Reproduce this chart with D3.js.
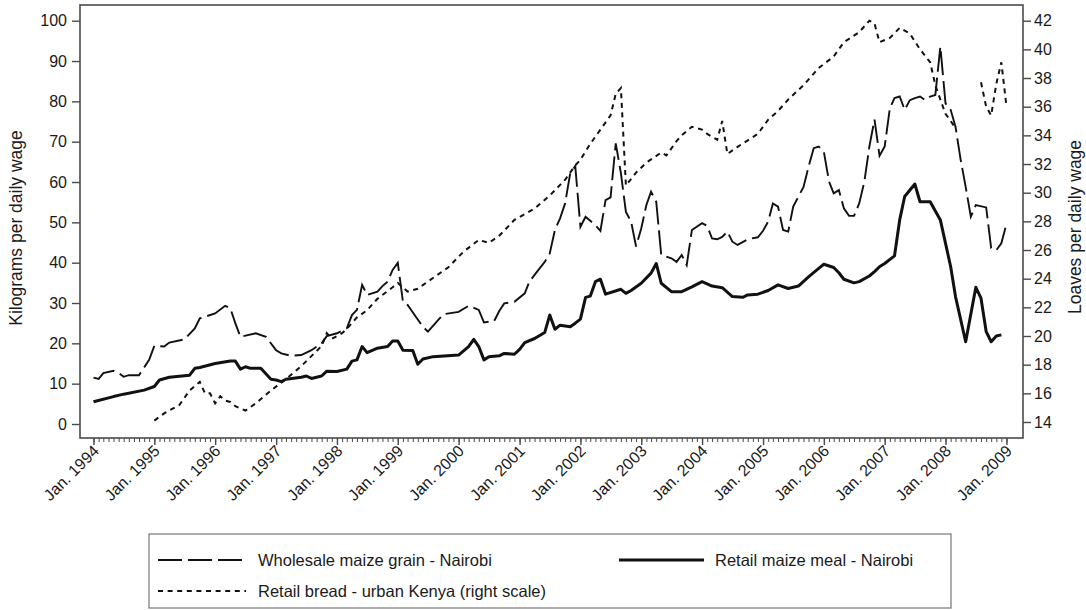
<!DOCTYPE html>
<html><head><meta charset="utf-8">
<script src="https://cdn.jsdelivr.net/npm/d3@7"></script>
<style>
body{margin:0;background:#fff;}
svg text{font-family:"Liberation Sans",Arial,Helvetica,sans-serif;fill:#1a1a1a;}
</style></head><body>
<svg id="chart" width="1086" height="610"></svg>
<script>
// ---------------- DATA ----------------
const leftTicks = [0,10,20,30,40,50,60,70,80,90,100];
const rightTicks = [14,16,18,20,22,24,26,28,30,32,34,36,38,40,42];
const yearTicks = ["1994","1995","1996","1997","1998","1999","2000","2001","2002","2003","2004","2005","2006","2007","2008","2009"];

const seriesNames = ["Wholesale maize grain - Nairobi","Retail maize meal - Nairobi","Retail bread - urban Kenya (right scale)"];

// Retail maize meal - Nairobi (kg per daily wage, left scale)
const mealMonths = ["1994-01","1994-05","1994-07","1994-11","1995-01","1995-02","1995-04","1995-08","1995-09","1995-10",
"1996-01","1996-04","1996-05","1996-06","1996-07","1996-08","1996-10","1996-12","1997-01","1997-02","1997-03","1997-06",
"1997-07","1997-08","1997-10","1997-11","1998-01","1998-03","1998-04","1998-05","1998-06","1998-07","1998-09","1998-11",
"1998-12","1999-01","1999-02","1999-04","1999-05","1999-06","1999-08","2000-01","2000-03","2000-04","2000-05","2000-06",
"2000-07","2000-09","2000-10","2000-12","2001-01","2001-02","2001-04","2001-06","2001-07","2001-08","2001-09","2001-11",
"2001-12","2002-01","2002-02","2002-03","2002-04","2002-05","2002-06","2002-09","2002-10","2002-11","2003-01","2003-03",
"2003-04","2003-05","2003-07","2003-09","2003-11","2004-01","2004-03","2004-05","2004-07","2004-09","2004-10","2004-12",
"2005-02","2005-04","2005-06","2005-08","2005-10","2005-12","2006-01","2006-03","2006-04","2006-05","2006-07","2006-08",
"2006-10","2006-11","2006-12","2007-01","2007-03","2007-04","2007-05","2007-07","2007-08","2007-10","2007-12","2008-02",
"2008-03","2008-05","2008-07","2008-08","2008-09","2008-10","2008-11","2008-12"];
const mealValues = [5.5,6.8,7.4,8.4,9.3,10.9,11.6,12.1,13.8,14.0,
15.0,15.6,15.6,13.6,14.2,13.8,13.8,11.1,10.9,10.5,11.1,11.6,
11.9,11.3,11.9,13.1,13.0,13.6,15.6,15.9,19.2,17.7,18.8,19.2,
20.6,20.6,18.3,18.2,14.8,16.1,16.7,17.1,19.2,21.0,19.2,15.9,
16.7,16.9,17.5,17.3,18.5,20.2,21.2,22.7,27.0,23.5,24.5,24.1,
25.0,26.0,31.4,31.7,35.3,35.9,32.2,33.4,32.4,33.1,34.9,37.4,
39.8,34.9,32.8,32.8,34.0,35.3,34.2,33.8,31.6,31.4,32.0,32.2,
33.1,34.5,33.6,34.2,36.5,38.6,39.6,38.8,37.5,35.9,35.0,35.3,
36.7,37.8,39.0,39.8,41.7,50.6,56.4,59.5,55.1,55.1,50.6,39.0,
31.6,20.4,33.9,31.2,22.9,20.4,21.8,22.1];

// Wholesale maize grain - Nairobi (kg per daily wage, left scale)
const grainMonths = ["1994-01","1994-02","1994-03","1994-05","1994-06","1994-07","1994-08","1994-10","1994-12","1995-01",
"1995-03","1995-04","1995-07","1995-09","1995-10","1996-01","1996-03","1996-04","1996-05","1996-06","1996-09","1996-11",
"1997-01","1997-02","1997-04","1997-06","1997-08","1997-10","1997-11","1998-01","1998-03","1998-04","1998-05","1998-06",
"1998-07","1998-09","1998-10","1998-11","1998-12","1999-01","1999-02","1999-03","1999-06","1999-07","1999-09","1999-10",
"2000-01","2000-03","2000-05","2000-06","2000-08","2000-09","2000-10","2000-12","2001-02","2001-03","2001-05","2001-06",
"2001-07","2001-08","2001-09","2001-10","2001-11","2001-12","2002-01","2002-02","2002-04","2002-05","2002-06","2002-07",
"2002-08","2002-09","2002-10","2002-11","2002-12","2003-01","2003-02","2003-03","2003-04","2003-05","2003-07","2003-08",
"2003-09","2003-10","2003-11","2004-01","2004-02","2004-03","2004-04","2004-05","2004-06","2004-07","2004-08","2004-10",
"2004-12","2005-01","2005-02","2005-03","2005-04","2005-05","2005-06","2005-07","2005-09","2005-10","2005-11","2005-12",
"2006-01","2006-02","2006-03","2006-04","2006-05","2006-06","2006-07","2006-08","2006-09","2006-10","2006-11","2006-12",
"2007-01","2007-02","2007-03","2007-04","2007-05","2007-06","2007-07","2007-08","2007-09","2007-10","2007-11","2007-12",
"2008-01","2008-02","2008-03","2008-04","2008-05","2008-06","2008-07","2008-09","2008-10","2008-11","2008-12","2009-01"];
const grainValues = [11.5,11.2,12.6,13.2,12.7,11.7,12.1,12.1,15.9,19.4,
19.2,20.2,21.0,23.7,26.2,27.4,29.3,28.7,25.0,21.6,22.5,21.6,
18.3,17.5,16.9,17.1,18.3,20.0,21.8,22.5,23.7,27.0,28.3,34.5,
32.0,32.8,34.2,35.3,38.2,40.0,30.3,29.5,24.1,22.9,25.8,27.2,
27.8,29.3,28.3,25.2,25.5,28.0,29.9,30.3,32.4,35.3,38.6,40.2,
42.3,48.1,51.0,54.7,62.2,64.0,48.9,51.4,49.3,47.9,55.5,56.2,
69.6,62.2,52.6,50.2,44.0,48.5,54.3,57.6,55.1,41.9,41.1,40.2,
41.9,39.4,48.1,49.8,49.1,46.0,45.8,46.4,47.7,45.2,44.4,45.8,
46.3,47.9,50.2,54.7,53.9,48.1,47.7,53.9,58.8,63.8,68.4,68.8,
67.5,60.1,57.2,58.0,53.5,51.6,51.6,54.7,60.1,68.8,75.5,66.5,
68.8,78.3,80.8,81.2,77.9,80.3,80.8,81.2,80.3,81.2,81.6,93.6,
79.5,77.9,73.7,65.5,58.8,51.4,54.3,53.7,43.6,43.1,44.8,49.6];

// Retail bread - urban Kenya (loaves per daily wage, right scale); null = missing
const breadMonths = ["1995-01","1995-03","1995-06","1995-08","1995-10","1995-11","1995-12","1996-01","1996-02","1996-03",
"1996-04","1996-05","1996-07","1996-09","1996-12","1997-03","1997-06","1997-10","1997-11","1997-12","1998-02","1998-03",
"1998-05","1998-07","1998-09","1998-12","1999-01","1999-03","1999-05","1999-07","1999-11","2000-02","2000-05","2000-07",
"2000-09","2000-12","2001-04","2001-07","2001-10","2001-12","2002-01","2002-03","2002-05","2002-07","2002-08","2002-09",
"2002-10","2002-12","2003-02","2003-05","2003-06","2003-08","2003-09","2003-11","2004-01","2004-02","2004-04","2004-05",
"2004-06","2004-08","2004-12","2005-02","2005-04","2005-06","2005-09","2005-12","2006-03","2006-05","2006-08","2006-10",
"2006-11","2006-12","2007-02","2007-04","2007-06","2007-08","2007-10","2007-11","2007-12","2008-01","2008-02","2008-03",
"2008-05","2008-08","2008-09","2008-10","2008-11","2008-12","2009-01"];
const breadValues = [14.1,14.6,15.2,16.2,16.8,16.0,16.0,15.3,15.8,15.5,
15.4,15.1,14.8,15.3,16.2,17.0,17.9,19.3,20.2,19.8,20.2,20.5,
21.3,21.8,22.6,23.4,23.7,23.1,23.3,23.8,24.8,25.9,26.7,26.5,
27.0,28.1,28.9,29.8,30.9,31.9,32.3,33.4,34.4,35.4,36.9,37.3,
30.5,31.4,32.1,32.8,32.6,33.6,34.0,34.6,34.4,34.1,33.7,35.0,
32.7,33.2,34.1,35.1,35.7,36.5,37.5,38.7,39.5,40.5,41.2,42.0,
41.8,40.5,40.8,41.5,41.1,40.0,39.1,37.5,36.5,35.5,35.0,34.5,
null,37.7,36.0,35.4,37.6,39.1,36.0];

// ---------------- CHART ----------------
const svg = d3.select("#chart");
const parseM = d3.timeParse("%Y-%m");
const frame = {l:80, r:1023, t:5, b:438};

const x = d3.scaleTime().domain([parseM("1994-01"), parseM("2009-01")]).range([93.5, 1006.5]);
const yL = d3.scaleLinear().domain([0,100]).range([424, 20.7]);
const yR = d3.scaleLinear().domain([14,42]).range([422, 20.7]);

const toPts = (ms, vs) => ms.map((m,i)=>({d:parseM(m), v:vs[i]}));

// frame
svg.append("rect").attr("x",frame.l).attr("y",frame.t)
  .attr("width",frame.r-frame.l).attr("height",frame.b-frame.t)
  .attr("fill","none").attr("stroke","#4a4a4a").attr("stroke-width",1.6);

// x axis minor (monthly)
const xMinor = svg.append("g").attr("transform",`translate(0,${frame.b})`)
  .call(d3.axisBottom(x).tickValues(d3.timeMonth.range(parseM("1994-01"), parseM("2009-02"))).tickSize(4).tickFormat(""));
xMinor.select(".domain").remove();
xMinor.selectAll("line").attr("stroke","#4a4a4a").attr("stroke-width",1);

// x axis major
const xMajor = svg.append("g").attr("transform",`translate(0,${frame.b})`)
  .call(d3.axisBottom(x).tickValues(yearTicks.map(y=>parseM(y+"-01"))).tickSize(7)
    .tickFormat(d=>"Jan. "+d3.timeFormat("%Y")(d)));
xMajor.select(".domain").remove();
xMajor.selectAll("line").attr("stroke","#4a4a4a").attr("stroke-width",1.4);
xMajor.selectAll("text").attr("x",0).attr("y",0).attr("dy",0)
  .attr("transform","translate(6,14) rotate(-45)")
  .style("text-anchor","end").style("font-size","16px").attr("fill","#1a1a1a");

// left axis
const gL = svg.append("g").attr("transform",`translate(${frame.l},0)`)
  .call(d3.axisLeft(yL).tickValues(leftTicks).tickSize(8).tickPadding(5));
gL.select(".domain").remove();
gL.selectAll("line").attr("stroke","#4a4a4a").attr("stroke-width",1.4);
gL.selectAll("text").style("font-size","16px").attr("fill","#1a1a1a");

// right axis
const gR = svg.append("g").attr("transform",`translate(${frame.r},0)`)
  .call(d3.axisRight(yR).tickValues(rightTicks).tickSize(8).tickPadding(3));
gR.select(".domain").remove();
gR.selectAll("line").attr("stroke","#4a4a4a").attr("stroke-width",1.4);
gR.selectAll("text").style("font-size","16px").attr("fill","#1a1a1a");

// axis titles
svg.append("text").attr("transform","translate(21.5,228) rotate(-90)")
  .attr("text-anchor","middle").style("font-size","17.5px").text("Kilograms per daily wage");
svg.append("text").attr("transform","translate(1081,227) rotate(-90)")
  .attr("text-anchor","middle").style("font-size","17.5px").text("Loaves per daily wage");

// lines
const lineL = d3.line().defined(p=>p.v!=null).x(p=>x(p.d)).y(p=>yL(p.v));
const lineR = d3.line().defined(p=>p.v!=null).x(p=>x(p.d)).y(p=>yR(p.v));

const styles = [
  {dash:"24,6", w:1.9},
  {dash:null, w:3},
  {dash:"5,4.6", w:2}
];

svg.append("path").datum(toPts(breadMonths, breadValues)).attr("d",lineR)
  .attr("fill","none").attr("stroke","#111").attr("stroke-width",styles[2].w).attr("stroke-dasharray",styles[2].dash);
svg.append("path").datum(toPts(grainMonths, grainValues)).attr("d",lineL)
  .attr("fill","none").attr("stroke","#111").attr("stroke-width",styles[0].w).attr("stroke-dasharray",styles[0].dash);
svg.append("path").datum(toPts(mealMonths, mealValues)).attr("d",lineL)
  .attr("fill","none").attr("stroke","#111").attr("stroke-width",styles[1].w).attr("stroke-linejoin","round");

// legend
const lg = svg.append("g");
lg.append("rect").attr("x",149).attr("y",534).attr("width",802).attr("height",74)
  .attr("fill","#fff").attr("stroke","#777").attr("stroke-width",1.2);
const items = [
  {i:0, x1:158, x2:246, tx:258, y:560},
  {i:1, x1:619, x2:704, tx:715, y:560},
  {i:2, x1:158, x2:246, tx:258, y:591}
];
items.forEach(it=>{
  const s = styles[it.i];
  lg.append("line").attr("x1",it.x1).attr("x2",it.x2).attr("y1",it.y).attr("y2",it.y)
    .attr("stroke","#111").attr("stroke-width",s.w).attr("stroke-dasharray",s.dash);
  lg.append("text").attr("x",it.tx).attr("y",it.y).attr("dy","0.35em")
    .style("font-size","16.5px").text(seriesNames[it.i]);
});
</script>
</body></html>
